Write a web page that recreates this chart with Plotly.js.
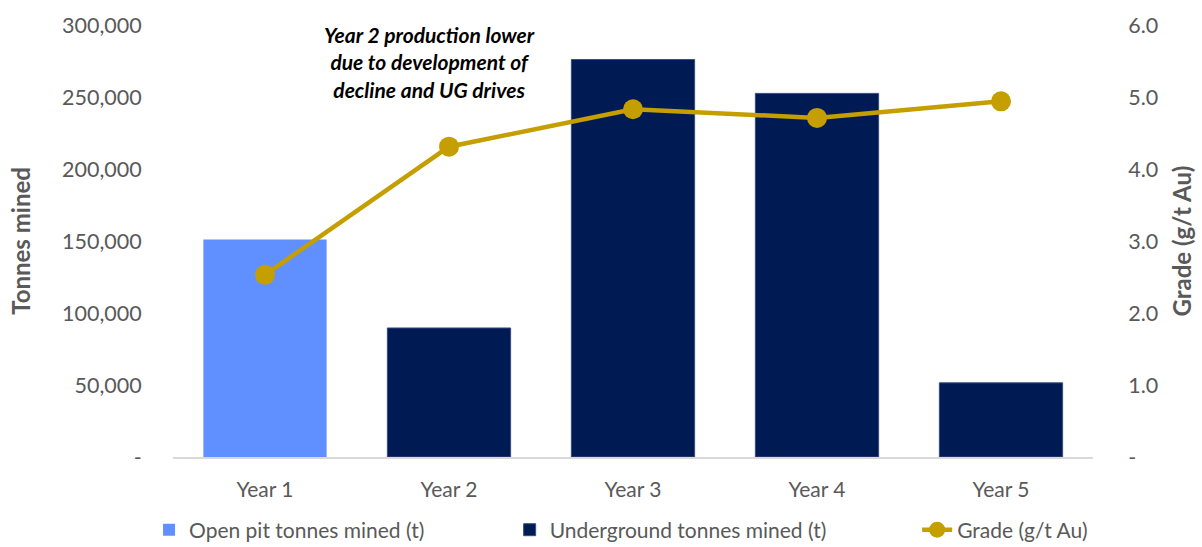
<!DOCTYPE html>
<html>
<head>
<meta charset="utf-8">
<script src="https://cdn.plot.ly/plotly-3.0.1.min.js"></script>
<style>html,body{margin:0;padding:0;background:#fff;}#chart{width:1202px;height:547px;}</style>
</head>
<body>
<div id="chart"></div>
<script>
const years = ["Year 1", "Year 2", "Year 3", "Year 4", "Year 5"];
const openPitTonnes = [151000, null, null, null, null];
const undergroundTonnes = [null, 89600, 276000, 252500, 51500];
const gradeGtAu = [2.53, 4.31, 4.83, 4.71, 4.94];
const leftTickVals = [0, 50000, 100000, 150000, 200000, 250000, 300000];
const leftTickText = ["-", "50,000", "100,000", "150,000", "200,000", "250,000", "300,000"];
const rightTickVals = [0, 1, 2, 3, 4, 5, 6];
const rightTickText = ["-", "1.0", "2.0", "3.0", "4.0", "5.0", "6.0"];
const noteText = "Year 2 production lower<br>due to development of<br>decline and UG drives";

const FONT = "Lato, 'Open Sans', sans-serif";
const GREY = "#595959";

const traces = [
  {
    type: "bar", name: "Open pit tonnes mined (t)", x: years, y: openPitTonnes,
    marker: {color: "#6090FF", line: {width: 0}}, yaxis: "y", hoverinfo: "x+y",
    legend: "legend"
  },
  {
    type: "bar", name: "Underground tonnes mined (t)", x: years, y: undergroundTonnes,
    marker: {color: "#001A54", line: {width: 1, color: "#3A4C80"}}, yaxis: "y", hoverinfo: "x+y",
    legend: "legend2"
  },
  {
    type: "scatter", mode: "lines+markers", name: "Grade (g/t Au)", x: years, y: gradeGtAu,
    line: {color: "#C59E00", width: 4.5}, marker: {color: "#C59E00", size: 20},
    yaxis: "y2", legend: "legend3"
  }
];

function legendAt(x) {
  return {
    orientation: "h", xref: "container", yref: "container",
    x: x, xanchor: "left", y: 0.031, yanchor: "middle",
    font: {family: FONT, size: 21, color: GREY}, itemwidth: 30,
    bgcolor: "rgba(0,0,0,0)"
  };
}

const layout = {
  width: 1202, height: 547,
  margin: {l: 173, r: 109, t: 25, b: 90},
  paper_bgcolor: "#fff", plot_bgcolor: "#fff",
  font: {family: FONT, size: 21, color: GREY},
  barmode: "overlay", bargap: 0.33,
  showlegend: true,
  legend: legendAt(0.124),
  legend2: legendAt(0.424),
  legend3: legendAt(0.763),
  xaxis: {
    type: "category", showgrid: false, zeroline: false,
    showline: true, linecolor: "#D9D9D9", linewidth: 2,
    ticks: "outside", ticklen: 13, tickcolor: "rgba(0,0,0,0)",
    tickfont: {family: FONT, size: 21, color: GREY}, automargin: false
  },
  yaxis: {
    range: [0, 300000], tickvals: leftTickVals, ticktext: leftTickText,
    showgrid: false, zeroline: false, showline: false,
    ticks: "outside", ticklen: 26, tickcolor: "rgba(0,0,0,0)",
    tickfont: {family: FONT, size: 21.5, color: GREY},
    title: {text: "<b>Tonnes mined</b>", font: {family: FONT, size: 24, color: GREY}, standoff: 24},
    automargin: false
  },
  yaxis2: {
    overlaying: "y", side: "right",
    range: [0, 6], tickvals: rightTickVals, ticktext: rightTickText,
    showgrid: false, zeroline: false, showline: false,
    ticks: "outside", ticklen: 30, tickcolor: "rgba(0,0,0,0)",
    tickfont: {family: FONT, size: 21.5, color: GREY},
    title: {text: "<b>Grade (g/t Au)</b>", font: {family: FONT, size: 24, color: GREY}, standoff: 16},
    automargin: false
  },
  annotations: [
    {
      xref: "paper", yref: "paper", x: 0.279, y: 1.012, xanchor: "center", yanchor: "top",
      text: "<b><i>" + noteText + "</i></b>", showarrow: false, align: "center",
      font: {family: FONT, size: 21, color: "#000"}
    }
  ]
};

Plotly.newPlot("chart", traces, layout, {displayModeBar: false, staticPlot: true});
</script>
</body>
</html>
